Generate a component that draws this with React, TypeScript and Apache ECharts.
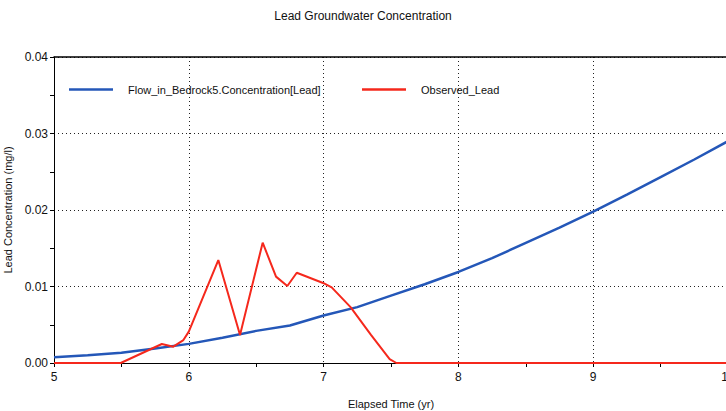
import React, { useEffect, useRef } from "react";
import * as echarts from "echarts";

const titleText = "Lead Groundwater Concentration";
const xName = "Elapsed Time (yr)";
const yName = "Lead Concentration (mg/l)";
const seriesNames = ["Flow_in_Bedrock5.Concentration[Lead]", "Observed_Lead"];

const modelX = [5.0, 5.25, 5.5, 5.75, 6.0, 6.25, 6.5, 6.75, 7.0, 7.25, 7.5, 7.75, 8.0, 8.25, 8.5, 8.75, 9.0, 9.25, 9.5, 9.75, 10.0];
const modelY = [0.00075, 0.001, 0.00135, 0.0019, 0.0025, 0.0033, 0.0042, 0.0049, 0.0062, 0.0073, 0.0088, 0.0103, 0.0119, 0.0137, 0.0157, 0.0177, 0.0198, 0.022, 0.0243, 0.0266, 0.029];

const obsX = [5.0, 5.495, 5.8, 5.885, 5.96, 6.0, 6.219, 6.38, 6.548, 6.647, 6.731, 6.801, 6.996, 7.06, 7.2, 7.35, 7.49, 7.54, 10.0];
const obsY = [0, 0, 0.00248, 0.00213, 0.003, 0.0041, 0.01346, 0.00366, 0.01573, 0.01129, 0.01007, 0.0118, 0.01046, 0.00989, 0.0073, 0.0037, 0.0005, 0, 0];

const font = "'Liberation Sans', Arial, sans-serif";

export default function App() {
  const ref = useRef<HTMLDivElement>(null);
  useEffect(() => {
    if (!ref.current) return;
    const chart = echarts.init(ref.current, undefined, { renderer: "svg" });
    const zip = (xs: number[], ys: number[]) => xs.map((x, i) => [x, ys[i]]);
    const legendCommon = {
      top: 84,
      padding: 0,
      icon: "rect",
      itemWidth: 44,
      itemHeight: 2.5,
      textStyle: { fontFamily: font, fontSize: 11, color: "#111", padding: [0, 0, 0, 10] },
    };
    chart.setOption({
      animation: false,
      backgroundColor: "#ffffff",
      title: {
        text: titleText,
        left: "center",
        top: 5,
        textStyle: { fontFamily: font, fontSize: 12, fontWeight: "normal", color: "#111" },
      },
      legend: [
        { ...legendCommon, data: [seriesNames[0]], left: 69 },
        { ...legendCommon, data: [seriesNames[1]], left: 362 },
      ],
      grid: { left: 54, top: 57, right: -2, bottom: 48, outerBoundsMode: "none", containLabel: false },
      xAxis: [
        {
          type: "value",
          min: 5,
          max: 10,
          interval: 1,
          name: xName,
          nameLocation: "middle",
          nameGap: 35,
          nameTextStyle: { fontFamily: font, fontSize: 11, color: "#111" },
          axisLine: { lineStyle: { color: "#000", width: 1 } },
          axisTick: { length: 4, lineStyle: { color: "#000" } },
          minorTick: { show: true, splitNumber: 2, length: 4, lineStyle: { color: "#000" } },
          axisLabel: { fontFamily: font, fontSize: 12, color: "#111", margin: 8 },
          splitLine: {
            show: true,
            lineStyle: { color: "#222", type: [1, 3], width: 1 },
          },
        },
        {
          type: "value",
          position: "top",
          min: 5,
          max: 10,
          axisLine: { show: true, onZero: false, lineStyle: { color: "#000", width: 1.5 } },
          axisTick: { show: false },
          axisLabel: { show: false },
          splitLine: { show: false },
        },
      ],
      yAxis: {
        type: "value",
        min: 0,
        max: 0.04,
        interval: 0.01,
        name: yName,
        nameLocation: "middle",
        nameGap: 40,
        nameTextStyle: { fontFamily: font, fontSize: 11, color: "#111" },
        axisLine: { show: true, lineStyle: { color: "#000", width: 1 } },
        axisTick: { show: true, length: 4, lineStyle: { color: "#000" } },
        minorTick: { show: true, splitNumber: 2, length: 4, lineStyle: { color: "#000" } },
        axisLabel: {
          fontFamily: font,
          fontSize: 12,
          color: "#111",
          margin: 6,
          formatter: (v: number) => v.toFixed(2),
        },
        splitLine: {
          show: true,
          lineStyle: { color: "#222", type: [1, 3], width: 1 },
        },
      },
      series: [
        {
          name: seriesNames[0],
          type: "line",
          symbol: "none",
          data: zip(modelX, modelY),
          lineStyle: { color: "#2457b8", width: 2.5 },
          itemStyle: { color: "#2457b8" },
          z: 3,
        },
        {
          name: seriesNames[1],
          type: "line",
          symbol: "none",
          data: zip(obsX, obsY),
          lineStyle: { color: "#f5281c", width: 2 },
          itemStyle: { color: "#f5281c" },
          z: 4,
        },
      ],
    });
    return () => chart.dispose();
  }, []);
  return (
    <div
      ref={ref}
      style={{ position: "fixed", left: 0, top: 0, width: 726, height: 411, background: "#fff" }}
    />
  );
}
